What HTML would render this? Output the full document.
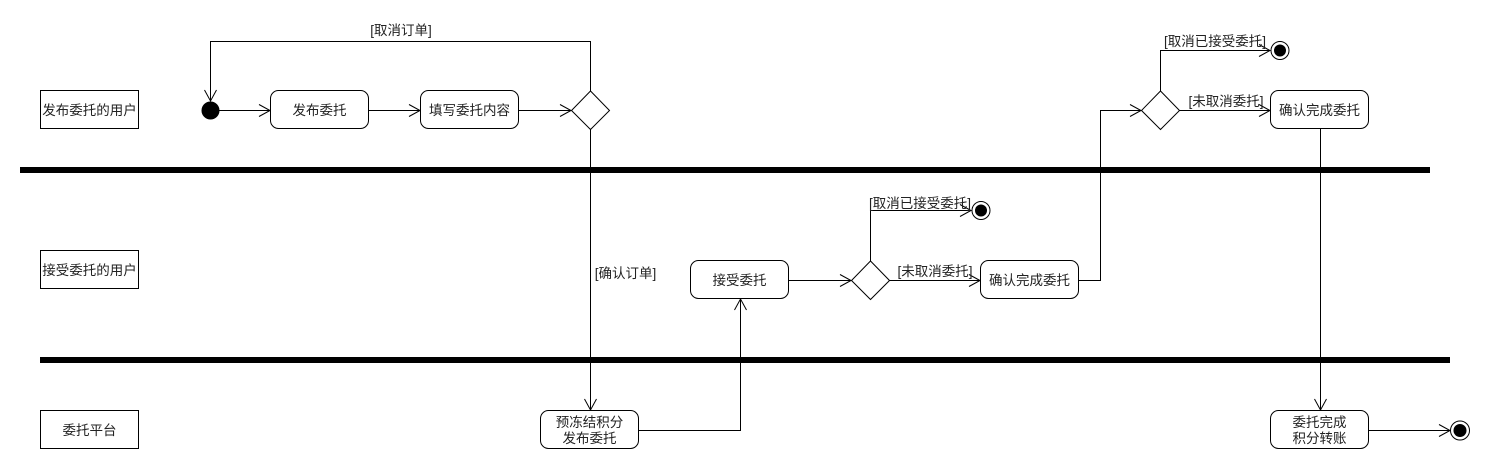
<!DOCTYPE html>
<html>
<head>
<meta charset="utf-8">
<style>
  html,body{margin:0;padding:0;background:#fff;}
  svg{display:block;}
  text{font-family:"Liberation Sans","Noto Sans CJK SC",sans-serif;font-size:13.5px;fill:#222;}
</style>
</head>
<body>
<svg width="1490" height="470" viewBox="0 0 1490 470" xmlns="http://www.w3.org/2000/svg">
  <rect width="1490" height="470" fill="#fff"/>

  <!-- swimlane separators -->
  <rect x="20" y="167" width="1410" height="6" fill="#000"/>
  <rect x="40" y="357" width="1410" height="6" fill="#000"/>

  <!-- lane labels -->
  <g fill="#fff" stroke="#000" stroke-width="1">
    <rect x="40.5" y="90.5" width="98" height="38"/>
    <rect x="40.5" y="250.5" width="98" height="38"/>
    <rect x="40.5" y="410.5" width="98" height="38"/>
  </g>
  <text x="89.5" y="115" text-anchor="middle">发布委托的用户</text>
  <text x="89.5" y="275" text-anchor="middle">接受委托的用户</text>
  <text x="89.5" y="435" text-anchor="middle">委托平台</text>

  <!-- connectors -->
  <g fill="none" stroke="#000" stroke-width="1">
    <!-- start -> 发布委托 -->
    <line x1="219" y1="110.5" x2="270" y2="110.5"/>
    <polyline points="259,104.5 270,110.5 259,116.5"/>
    <!-- 发布委托 -> 填写 -->
    <line x1="369" y1="110.5" x2="420" y2="110.5"/>
    <polyline points="409,104.5 420,110.5 409,116.5"/>
    <!-- 填写 -> diamond1 -->
    <line x1="519" y1="110.5" x2="571" y2="110.5"/>
    <polyline points="560,104.5 571,110.5 560,116.5"/>
    <!-- loop back -->
    <polyline points="590.5,91 590.5,41.5 210.5,41.5 210.5,101"/>
    <polyline points="204.5,90 210.5,101 216.5,90"/>
    <!-- diamond1 down to 预冻结 -->
    <line x1="590.5" y1="129" x2="590.5" y2="410"/>
    <polyline points="584.5,399 590.5,410 596.5,399"/>
    <!-- 预冻结 -> 接受委托 -->
    <polyline points="639,430.5 740.5,430.5 740.5,299"/>
    <polyline points="734.5,310 740.5,299 746.5,310"/>
    <!-- 接受委托 -> diamond2 -->
    <line x1="789" y1="280.5" x2="851" y2="280.5"/>
    <polyline points="840,274.5 851,280.5 840,286.5"/>
    <!-- diamond2 up -> end -->
    <polyline points="870.5,261 870.5,210.5 971,210.5"/>
    <polyline points="960,204.5 971,210.5 960,216.5"/>
    <!-- diamond2 right -> 确认完成委托 -->
    <line x1="889" y1="280.5" x2="980" y2="280.5"/>
    <polyline points="969,274.5 980,280.5 969,286.5"/>
    <!-- 确认完成委托 -> diamond3 -->
    <polyline points="1079,280.5 1100.5,280.5 1100.5,110.5 1141,110.5"/>
    <polyline points="1130,104.5 1141,110.5 1130,116.5"/>
    <!-- diamond3 up -> end -->
    <polyline points="1160.5,91 1160.5,50.5 1270,50.5"/>
    <polyline points="1259,44.5 1270,50.5 1259,56.5"/>
    <!-- diamond3 right -> 确认完成委托 -->
    <line x1="1179" y1="110.5" x2="1270" y2="110.5"/>
    <polyline points="1259,104.5 1270,110.5 1259,116.5"/>
    <!-- 确认完成委托 down -> 委托完成 -->
    <line x1="1320.5" y1="129" x2="1320.5" y2="410"/>
    <polyline points="1314.5,399 1320.5,410 1326.5,399"/>
    <!-- 委托完成 -> end -->
    <line x1="1369" y1="430.5" x2="1450" y2="430.5"/>
    <polyline points="1439,424.5 1450,430.5 1439,436.5"/>
  </g>

  <!-- start node -->
  <circle cx="210.5" cy="110.5" r="9" fill="#000"/>

  <!-- activity nodes -->
  <g fill="#fff" stroke="#000" stroke-width="1">
    <rect x="270.5" y="90.5" width="98" height="38" rx="8" ry="8"/>
    <rect x="420.5" y="90.5" width="98" height="38" rx="8" ry="8"/>
    <rect x="690.5" y="260.5" width="98" height="38" rx="8" ry="8"/>
    <rect x="980.5" y="260.5" width="98" height="38" rx="8" ry="8"/>
    <rect x="1270.5" y="90.5" width="98" height="38" rx="8" ry="8"/>
    <rect x="540.5" y="410.5" width="98" height="38" rx="8" ry="8"/>
    <rect x="1270.5" y="410.5" width="98" height="38" rx="8" ry="8"/>
    <!-- diamonds -->
    <polygon points="590.5,91 609.5,110.5 590.5,129.5 571.5,110.5"/>
    <polygon points="870.5,261 889.5,280.5 870.5,299.5 851.5,280.5"/>
    <polygon points="1160.5,91 1179.5,110.5 1160.5,129.5 1141.5,110.5"/>
    <!-- end nodes -->
    <circle cx="981" cy="210.5" r="9"/>
    <circle cx="1280" cy="50.5" r="9"/>
    <circle cx="1460" cy="430.5" r="9.5"/>
  </g>
  <circle cx="981" cy="210.5" r="6" fill="#000"/>
  <circle cx="1280" cy="50.5" r="6" fill="#000"/>
  <circle cx="1460" cy="430.5" r="6.5" fill="#000"/>

  <!-- node text -->
  <text x="319.5" y="115" text-anchor="middle">发布委托</text>
  <text x="469.5" y="115" text-anchor="middle">填写委托内容</text>
  <text x="739.5" y="285" text-anchor="middle">接受委托</text>
  <text x="1029.5" y="285" text-anchor="middle">确认完成委托</text>
  <text x="1319.5" y="115" text-anchor="middle">确认完成委托</text>
  <text x="589.5" y="427" text-anchor="middle">预冻结积分</text>
  <text x="589.5" y="443" text-anchor="middle">发布委托</text>
  <text x="1319.5" y="427" text-anchor="middle">委托完成</text>
  <text x="1319.5" y="443" text-anchor="middle">积分转账</text>

  <!-- guard labels -->
  <text x="401" y="35" text-anchor="middle">[取消订单]</text>
  <text x="625.5" y="278" text-anchor="middle">[确认订单]</text>
  <text x="920" y="208" text-anchor="middle">[取消已接受委托]</text>
  <text x="935" y="276" text-anchor="middle">[未取消委托]</text>
  <text x="1215" y="46" text-anchor="middle">[取消已接受委托]</text>
  <text x="1226" y="106" text-anchor="middle">[未取消委托]</text>
</svg>
</body>
</html>
